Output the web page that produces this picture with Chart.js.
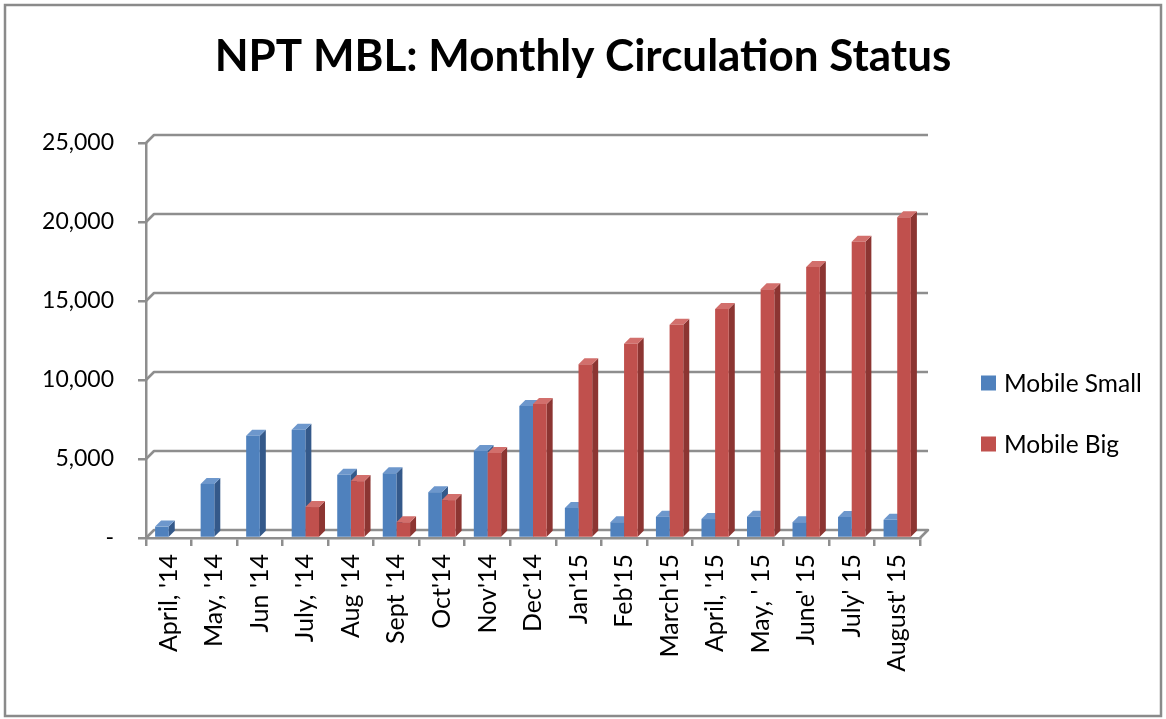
<!DOCTYPE html>
<html>
<head>
<meta charset="utf-8">
<script src="https://cdn.jsdelivr.net/npm/chart.js@4.4.1/dist/chart.umd.min.js"></script>
<style>
html,body{margin:0;padding:0;background:#ffffff;}
canvas{display:block;}
</style>
</head>
<body>
<canvas id="c" width="1166" height="719"></canvas>
<script>
// ---- data ----
const chartTitle = "NPT MBL: Monthly Circulation Status";
const categories = ["April, '14", "May, '14", "Jun '14", "July, '14", "Aug '14", "Sept '14", "Oct'14", "Nov'14", "Dec'14",
  "Jan'15", "Feb'15", "March'15", "April, '15", "May, ' 15", "June' 15", "July' 15", "August' 15"];
const seriesNames = ["Mobile Small", "Mobile Big"];
const mobileSmall = [720, 3420, 6470, 6850, 4000, 4100, 2900, 5500, 8350, 1900, 1000, 1350, 1200, 1350, 1000, 1330, 1150];
const mobileBig = [null, null, null, 1960, 3600, 1000, 2400, 5380, 8480, 11000, 12300, 13500, 14500, 15750, 17150, 18750, 20300];
const yTickValues = [0, 5000, 10000, 15000, 20000, 25000];

// ---- styling ----
const FONT = "Lato, 'Open Sans', 'DejaVu Sans', sans-serif";
const GRID = '#8e8e8e';
const DEPTH = 6;
const palette = [
  {front: '#4f81bd', side: '#34598a', top: '#6d97cc'},
  {front: '#c0504d', side: '#8c3532', top: '#d26f6c'}
];

const wall3d = {
  id: 'wall3d',
  beforeDraw(chart) {
    const ctx = chart.ctx;
    ctx.save();
    ctx.fillStyle = '#ffffff';
    ctx.fillRect(0, 0, chart.width, chart.height);
    ctx.strokeStyle = '#8a8a8a';
    ctx.lineWidth = 2.5;
    ctx.strokeRect(5, 5, chart.width - 10, chart.height - 8);
    ctx.restore();
  },
  beforeDatasetsDraw(chart) {
    const ctx = chart.ctx;
    const ys = chart.scales.y;
    const area = chart.chartArea;
    ctx.save();
    ctx.strokeStyle = GRID;
    ctx.lineWidth = 2.5;
    ctx.lineJoin = 'round';
    ys.ticks.forEach(t => {
      const yf = ys.getPixelForValue(t.value);
      ctx.beginPath();
      ctx.moveTo(area.left, yf);
      ctx.lineTo(area.left + DEPTH + 2, yf - DEPTH - 2);
      ctx.lineTo(area.right + DEPTH + 2, yf - DEPTH - 2);
      if (t.value === yTickValues[0]) {
        ctx.lineTo(area.right, yf);
      }
      ctx.stroke();
    });
    // 3D sides and tops of bars
    chart.data.datasets.forEach((ds, i) => {
      const meta = chart.getDatasetMeta(i);
      if (meta.hidden) return;
      const col = palette[i];
      meta.data.forEach(el => {
        const p = el.getProps(['x', 'y', 'base', 'width'], true);
        if (p.y == null || isNaN(p.y) || p.base - p.y < 0.5) return;
        const l = p.x - p.width / 2, r = p.x + p.width / 2;
        ctx.fillStyle = col.side;
        ctx.beginPath();
        ctx.moveTo(r, p.y); ctx.lineTo(r + DEPTH, p.y - DEPTH);
        ctx.lineTo(r + DEPTH, p.base - DEPTH); ctx.lineTo(r, p.base);
        ctx.closePath(); ctx.fill();
        ctx.fillStyle = col.top;
        ctx.beginPath();
        ctx.moveTo(l, p.y); ctx.lineTo(l + DEPTH, p.y - DEPTH);
        ctx.lineTo(r + DEPTH, p.y - DEPTH); ctx.lineTo(r, p.y);
        ctx.closePath(); ctx.fill();
      });
    });
    ctx.restore();
  },
  afterDraw(chart) {
    // legend on the right
    const ctx = chart.ctx;
    ctx.save();
    ctx.font = "24.5px " + FONT;
    ctx.textBaseline = 'middle';
    ctx.textAlign = 'left';
    const rows = [383, 444];
    chart.data.datasets.forEach((ds, i) => {
      const cy = rows[i];
      ctx.fillStyle = ds.backgroundColor;
      ctx.fillRect(981, cy - 7.5, 15, 15);
      ctx.fillStyle = '#000000';
      ctx.fillText(ds.label, 1004, cy + 1);
    });
    ctx.restore();
  }
};

const ctxEl = document.getElementById('c');
new Chart(ctxEl, {
  type: 'bar',
  data: {
    labels: categories,
    datasets: [
      {label: seriesNames[0], data: mobileSmall, backgroundColor: palette[0].front, borderWidth: 0},
      {label: seriesNames[1], data: mobileBig, backgroundColor: palette[1].front, borderWidth: 0}
    ]
  },
  options: {
    responsive: false,
    animation: false,
    devicePixelRatio: 1,
    layout: {padding: {left: 0, right: 0, top: 0, bottom: 0}},
    datasets: {bar: {categoryPercentage: 0.6, barPercentage: 1.0}},
    plugins: {
      legend: {display: false},
      tooltip: {enabled: false},
      title: {
        display: true,
        text: chartTitle,
        color: '#000000',
        font: {family: FONT, size: 44, weight: 'bold', lineHeight: 1.2},
        padding: {top: 30, bottom: 60.2}
      }
    },
    scales: {
      x: {
        offset: true,
        grid: {display: true, drawOnChartArea: false, drawTicks: true, tickLength: 8, color: GRID, lineWidth: 2.5, offset: true},
        border: {display: true, color: GRID, width: 2.5},
        ticks: {color: '#000000', font: {family: FONT, size: 25}, minRotation: 90, maxRotation: 90, autoSkip: false, padding: 8},
        afterFit(s) { s.height = 181; }
      },
      y: {
        min: yTickValues[0],
        max: yTickValues[yTickValues.length - 1],
        afterBuildTicks(s) { s.ticks = yTickValues.map(v => ({value: v})); },
        grid: {display: true, drawOnChartArea: false, drawTicks: true, tickLength: 8, color: GRID, lineWidth: 2.5},
        border: {display: true, color: GRID, width: 2.5},
        ticks: {
          color: '#000000',
          font: {family: FONT, size: 23},
          padding: 24,
          callback: v => v === 0 ? '-' : Number(v).toLocaleString('en-US')
        },
        afterFit(s) { s.width = 146; }
      },
      legendSpace: {
        type: 'linear',
        position: 'right',
        display: true,
        ticks: {display: false},
        grid: {display: false, drawTicks: false},
        border: {display: false},
        afterFit(s) { s.width = 246; }
      }
    }
  },
  plugins: [wall3d]
});
</script>
</body>
</html>
